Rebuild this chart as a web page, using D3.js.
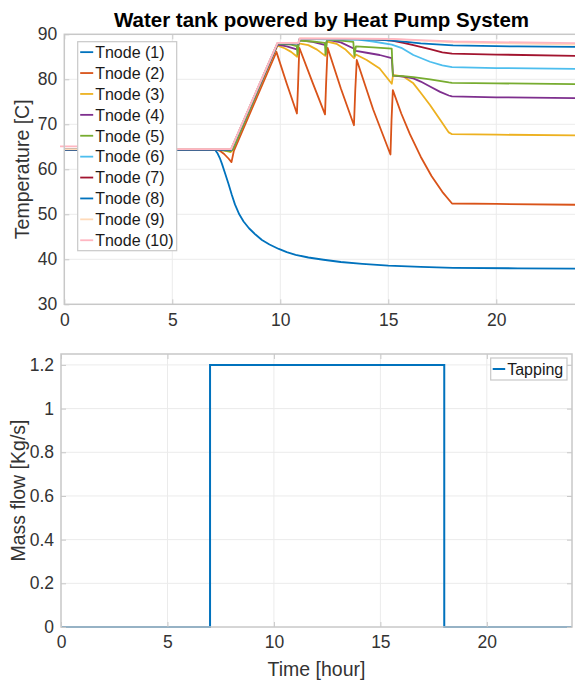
<!DOCTYPE html>
<html><head><meta charset="utf-8">
<script src="https://cdn.jsdelivr.net/npm/d3@7"></script>
<style>
html,body{margin:0;padding:0;background:#fff;overflow:hidden;}
svg{display:block;font-family:"Liberation Sans",Arial,Helvetica,sans-serif;}
</style></head>
<body>
<svg id="chart" width="575" height="681"></svg>
<script>
// ---------------- DATA ----------------
const chartTitle = "Water tank powered by Heat Pump System";
const topYLabel = "Temperature [C]";
const botYLabel = "Mass flow [Kg/s]";
const xLabel = "Time [hour]";
const xTicks = [0, 5, 10, 15, 20];
const tempTicks = [30, 40, 50, 60, 70, 80, 90];
const flowTicks = [0, 0.2, 0.4, 0.6, 0.8, 1, 1.2];
const nodeNames = ["Tnode (1)","Tnode (2)","Tnode (3)","Tnode (4)","Tnode (5)","Tnode (6)","Tnode (7)","Tnode (8)","Tnode (9)","Tnode (10)"];

// [time in hours, temperature in C]
const tnode1 = [[0,64.4],[6.9,64.4],[7.0,64.2],[7.1,63.5],[7.2,62.5],[7.3,61.2],[7.45,59.0],[7.6,56.8],[7.75,54.4],[7.9,52.2],[8.1,50.0],[8.3,48.4],[8.55,46.9],[8.85,45.5],[9.15,44.3],[9.5,43.3],[9.93,42.3],[10.3,41.6],[10.71,41.0],[11.3,40.4],[12.0,39.9],[12.8,39.4],[13.8,39.0],[15.0,38.6],[16.5,38.3],[18,38.1],[21,38.0],[24,37.9]];
const tnode2 = [[0,64.4],[7.05,64.4],[7.2,64.1],[7.4,63.4],[7.6,62.4],[7.74,61.6],[7.85,64.1],[9.82,86.1],[10.3,79.0],[10.77,72.4],[10.82,78.5],[10.88,87.0],[11.5,79.2],[12.07,72.2],[12.12,79.0],[12.19,87.0],[12.8,78.0],[13.41,69.8],[13.47,77.5],[13.54,84.3],[14.3,73.3],[15.1,63.3],[15.15,71.0],[15.21,77.6],[15.6,72.4],[16.0,67.8],[16.5,62.8],[17.0,58.5],[17.5,55.0],[17.95,52.4],[20,52.3],[24,52.1]];
const tnode3 = [[0,64.4],[7.05,64.4],[7.4,64.2],[7.7,63.8],[7.8,64.3],[9.87,87.5],[10.2,86.9],[10.5,86.1],[10.78,85.0],[10.85,88.0],[11.3,87.6],[11.7,86.6],[12.08,85.2],[12.15,88.4],[12.6,87.9],[13.0,86.7],[13.42,84.7],[13.5,85.5],[14.0,84.3],[14.6,82.4],[15.16,79.0],[15.22,81.0],[15.7,80.6],[16.16,79.1],[16.5,77.0],[16.93,74.3],[17.4,71.0],[17.8,68.2],[17.95,67.8],[20,67.7],[24,67.5]];
const tnode4 = [[0,64.4],[7.05,64.4],[7.72,64.2],[7.8,64.4],[9.87,87.7],[10.3,87.3],[10.8,86.6],[10.87,88.7],[11.5,88.3],[12.1,87.6],[12.17,88.8],[12.8,88.2],[13.42,86.8],[13.5,86.3],[14.0,85.9],[14.6,85.4],[15.16,84.7],[15.22,80.8],[15.7,80.6],[16.16,80.2],[16.5,79.5],[16.93,78.4],[17.4,77.2],[17.8,76.4],[17.95,76.2],[20,76.0],[24,75.8]];
const tnode5 = [[0,64.4],[7.05,64.4],[7.7,64.0],[7.8,64.4],[9.87,87.9],[10.5,87.7],[10.76,87.4],[10.8,85.5],[10.86,88.6],[11.5,88.4],[12.06,88.1],[12.1,85.5],[12.16,88.8],[12.8,88.6],[13.38,88.3],[13.43,85.2],[13.5,87.3],[14.3,87.1],[15.16,86.8],[15.21,80.8],[15.7,80.7],[16.16,80.5],[16.93,80.0],[17.8,79.3],[17.95,79.2],[20,79.1],[24,78.9]];
const tnode6 = [[0,64.4],[7.05,64.4],[7.72,64.3],[9.87,88.0],[10.85,88.0],[10.9,89.0],[12.0,88.9],[13.0,88.9],[13.6,88.8],[14.3,88.4],[15.16,87.7],[15.6,87.0],[16.16,85.4],[16.93,83.9],[17.5,83.1],[17.95,82.7],[20,82.5],[24,82.3]];
const tnode7 = [[0,64.4],[7.05,64.4],[7.72,64.4],[9.87,88.0],[10.85,88.0],[10.9,89.0],[14.0,89.0],[15.16,88.6],[15.7,88.1],[16.16,87.6],[16.93,86.7],[17.5,86.0],[17.95,85.7],[20,85.5],[24,85.2]];
const tnode8 = [[0,64.4],[7.05,64.4],[7.72,64.4],[9.87,88.0],[10.85,88.0],[10.9,89.0],[14.6,88.8],[15.5,88.5],[16.5,88.0],[17.8,87.6],[18,87.55],[21,87.3],[24,87.2]];
const tnode9 = [[0,64.5],[7.05,64.5],[7.72,64.5],[9.87,88.1],[10.85,88.1],[10.9,89.1],[15.0,89.0],[18,88.2],[24,87.7]];
const tnode10 = [[-0.2,65.1],[0.6,65.1],[3,64.7],[5.2,64.5],[7.72,64.5],[9.87,88.1],[10.85,88.1],[10.9,89.1],[15.2,89.0],[16.5,88.7],[18,88.4],[24,88.0]];

// [time in hours, mass flow kg/s]
const tapping = [[0,0],[7,0],[7,1.2],[18,1.2],[18,0],[24,0]];
const tappingName = "Tapping";

// ---------------- STYLE ----------------
const nodeColors = ["#0072BD","#D95319","#EDB120","#7E2F8E","#77AC30","#4DBEEE","#A2142F","#0072BD","#FFDAB9","#FFB6C1"];
const axisColor = "#c8c8c8", gridColor = "#ebebeb", textColor = "#333333";

const svg = d3.select("#chart");
const allNodes = [tnode1,tnode2,tnode3,tnode4,tnode5,tnode6,tnode7,tnode8,tnode9,tnode10];

function drawAxes(g, x, y, xt, yt) {
  const [x0, x1] = x.range(), [y0, y1] = y.range();
  g.append("g").selectAll("line").data(xt.filter(d => d !== x.domain()[0])).join("line")
    .attr("x1", d => x(d)).attr("x2", d => x(d)).attr("y1", y0).attr("y2", y1)
    .attr("stroke", gridColor).attr("stroke-width", 1);
  g.append("g").selectAll("line").data(yt.filter(d => d !== y.domain()[0] && d !== y.domain()[1])).join("line")
    .attr("x1", x0).attr("x2", x1).attr("y1", d => y(d)).attr("y2", d => y(d))
    .attr("stroke", gridColor).attr("stroke-width", 1);
}
function drawFrame(g, x, y, xt, yt, yfmt) {
  const [x0, x1] = x.range(), [y0, y1] = y.range();
  const ax = g.append("g").attr("transform", `translate(0,${y0})`)
    .call(d3.axisBottom(x).tickValues(xt).tickSize(-5).tickPadding(9));
  const axT = g.append("g").attr("transform", `translate(0,${y1})`)
    .call(d3.axisTop(x).tickValues(xt).tickSize(-5).tickFormat(""));
  const ay = g.append("g").attr("transform", `translate(${x0},0)`)
    .call(d3.axisLeft(y).tickValues(yt).tickSize(-5).tickPadding(7).tickFormat(yfmt));
  const ayR = g.append("g").attr("transform", `translate(${x1},0)`)
    .call(d3.axisRight(y).tickValues(yt).tickSize(-5).tickFormat(""));
  [ax, axT, ay, ayR].forEach(a => {
    a.select(".domain").remove();
    a.selectAll(".tick line").attr("stroke", axisColor);
    a.selectAll("text").attr("fill", textColor).style("font-size", "17.5px")
      .style("font-family", '"Liberation Sans",Arial,sans-serif');
  });
  g.append("rect").attr("x", x0).attr("y", y1).attr("width", x1 - x0).attr("height", y0 - y1)
    .attr("fill", "none").attr("stroke", axisColor).attr("stroke-width", 1.5);
}

// ---------------- TOP PLOT ----------------
const xTop = d3.scaleLinear().domain([0, 24]).range([64.3, 582.7]);
const yTop = d3.scaleLinear().domain([30, 90]).range([304.3, 34.3]);
const gTop = svg.append("g");
drawAxes(gTop, xTop, yTop, xTicks, tempTicks);
const line1 = d3.line().x(d => xTop(d[0])).y(d => yTop(d[1]));
gTop.append("g").selectAll("path").data(allNodes).join("path")
  .attr("d", line1).attr("fill", "none")
  .attr("stroke", (d, i) => nodeColors[i]).attr("stroke-width", 1.8)
  .attr("stroke-linejoin", "round");
drawFrame(gTop, xTop, yTop, xTicks, tempTicks, d3.format("d"));

const leg = gTop.append("g");
const legX = 77.7, legY = 41.7, legW = 99, legRow = 20.9;
leg.append("rect").attr("x", legX).attr("y", legY).attr("width", legW).attr("height", legRow * nodeNames.length)
  .attr("fill", "#fff").attr("stroke", axisColor).attr("stroke-width", 1.2);
const rows = leg.selectAll("g.row").data(nodeNames).join("g").attr("class", "row")
  .attr("transform", (d, i) => `translate(${legX},${legY + legRow * (i + 0.5)})`);
rows.append("line").attr("x1", 2.5).attr("x2", 15.5).attr("y1", 0).attr("y2", 0)
  .attr("stroke", (d, i) => nodeColors[i]).attr("stroke-width", 1.8);
rows.append("text").attr("x", 17.5).attr("y", 0).attr("dy", "0.36em")
  .attr("fill", "#1a1a1a").style("font-size", "16px").text(d => d);

svg.append("text").attr("x", (64.3 + 582.7) / 2 - 2).attr("y", 27).attr("text-anchor", "middle")
  .attr("fill", "#000").style("font-size", "20.5px").style("font-weight", "bold").text(chartTitle);
svg.append("text").attr("transform", `translate(29,${(34.3 + 304.3) / 2}) rotate(-90)`)
  .attr("text-anchor", "middle").attr("fill", textColor).style("font-size", "19.5px").text(topYLabel);

// ---------------- BOTTOM PLOT ----------------
const xBot = d3.scaleLinear().domain([0, 24]).range([61, 572]);
const yBot = d3.scaleLinear().domain([0, 1.25]).range([627, 354]);
const gBot = svg.append("g");
drawAxes(gBot, xBot, yBot, xTicks, flowTicks);
const line2 = d3.line().x(d => xBot(d[0])).y(d => yBot(d[1]));
gBot.append("path").datum(tapping).attr("d", line2).attr("fill", "none")
  .attr("stroke", "#0072BD").attr("stroke-width", 2);
drawFrame(gBot, xBot, yBot, xTicks, flowTicks, d => d3.format("~g")(d));

const leg2 = gBot.append("g").attr("transform", "translate(490.7,358)");
leg2.append("rect").attr("width", 76.3).attr("height", 22).attr("fill", "#fff")
  .attr("stroke", axisColor).attr("stroke-width", 1.2);
leg2.append("line").attr("x1", 2).attr("x2", 14.5).attr("y1", 11).attr("y2", 11)
  .attr("stroke", "#0072BD").attr("stroke-width", 2);
leg2.append("text").attr("x", 16.5).attr("y", 11).attr("dy", "0.36em").attr("fill", "#1a1a1a")
  .style("font-size", "16px").text(tappingName);

svg.append("text").attr("transform", `translate(25,${(354 + 627) / 2}) rotate(-90)`)
  .attr("text-anchor", "middle").attr("fill", textColor).style("font-size", "19.5px").text(botYLabel);
svg.append("text").attr("x", (61 + 572) / 2).attr("y", 676).attr("text-anchor", "middle")
  .attr("fill", textColor).style("font-size", "19.5px").text(xLabel);
</script>
</body></html>
